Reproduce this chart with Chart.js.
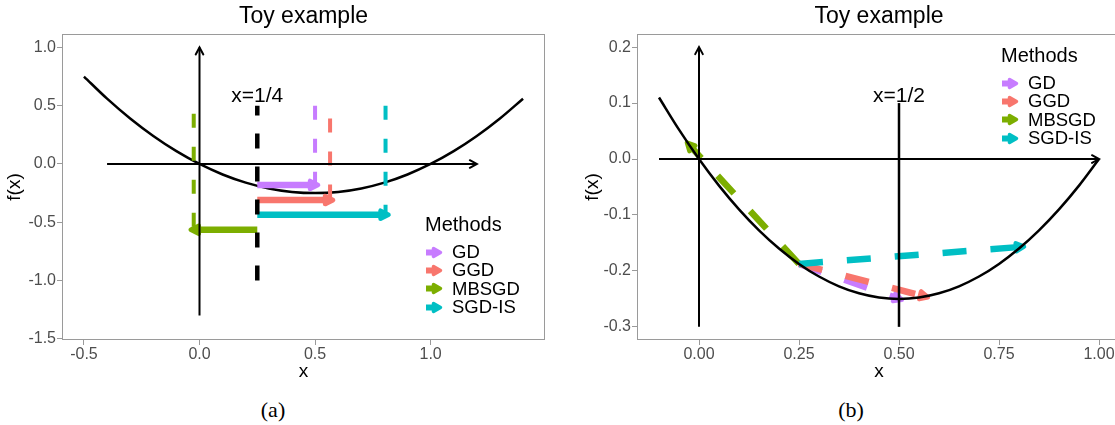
<!DOCTYPE html>
<html>
<head>
<meta charset="utf-8">
<script src="https://cdn.jsdelivr.net/npm/chart.js@4.4.1/dist/chart.umd.min.js"></script>
<style>
  html, body { margin: 0; padding: 0; background: #fff; overflow: hidden; }
  body { width: 1115px; height: 425px; position: relative; font-family: "Liberation Sans", Arial, sans-serif; }
  canvas { position: absolute; top: 0; }
  #chartA { left: 0; }
  #chartB { left: 578px; }
  .legend { position: absolute; color: #000; }
  .legend .ttl { font-size: 20px; line-height: 22px; margin-bottom: 8px; }
  .legend .row { display: flex; align-items: center; height: 18.3px; font-size: 18.5px; padding-left: 1px; }
  .legend svg { margin-right: 9px; }
  .caption { position: absolute; top: 397px; font-family: "Liberation Serif", "Times New Roman", serif; font-size: 22px; line-height: 26px; transform: translateX(-50%); }
</style>
</head>
<body>
<canvas id="chartA" width="557" height="390"></canvas>
<canvas id="chartB" width="545" height="390"></canvas>
<div class="caption" style="left:273px">(a)</div>
<div class="caption" style="left:851px">(b)</div>
<script>
// ---------- data ----------
const methods = ['GD', 'GGD', 'MBSGD', 'SGD-IS'];
const methodColors = ['#C77CFF', '#F8766D', '#7CAE00', '#00BFC4'];

// every method starts from x = 1/4
const x0 = 0.25;
const fx0 = -0.1875;
const xNext = [0.5, 0.565, -0.025, 0.805];
const fNext = [-0.25, -0.2458, 0.0256, -0.157];

// panel (a): height of each horizontal step arrow, top of its dashed marker
const stepLevelA = [-0.18, -0.31, -0.565, -0.435];
const markTopA = [0.5, 0.39, 0.43, 0.5];
const startMarkA = [-1.0, 0.5];

// f(x) = x^2 - x
const curveXA = [-0.5, -0.4, -0.3, -0.2, -0.1, 0, 0.1, 0.2, 0.3, 0.4, 0.5, 0.6, 0.7, 0.8, 0.9, 1.0, 1.1, 1.2, 1.3, 1.4];
const curveYA = [0.75, 0.56, 0.39, 0.24, 0.11, 0, -0.09, -0.16, -0.21, -0.24, -0.25, -0.24, -0.21, -0.16, -0.09, 0, 0.11, 0.24, 0.39, 0.56];
const curveXB = [-0.1, -0.05, 0, 0.05, 0.1, 0.15, 0.2, 0.25, 0.3, 0.35, 0.4, 0.45, 0.5, 0.55, 0.6, 0.65, 0.7, 0.75, 0.8, 0.85, 0.9, 0.95, 1.0];
const curveYB = [0.11, 0.0525, 0, -0.0475, -0.09, -0.1275, -0.16, -0.1875, -0.21, -0.2275, -0.24, -0.2475, -0.25, -0.2475, -0.24, -0.2275, -0.21, -0.1875, -0.16, -0.1275, -0.09, -0.0475, 0];

// coordinate axes drawn inside each panel
const axisXA = [-0.4, 1.2];
const axisYA = [-1.3, 1.0];
const axisXB = [-0.1, 1.0];
const axisYB = [-0.3, 0.2];
const halfLineB = [-0.3, 0.1];

const noteA = { text: 'x=1/4', x: 0.25, y: 0.58 };
const noteB = { text: 'x=1/2', x: 0.5, y: 0.113 };

const ticksXA = [-0.5, 0, 0.5, 1.0];
const labelsXA = ['-0.5', '0.0', '0.5', '1.0'];
const ticksYA = [-1.5, -1.0, -0.5, 0, 0.5, 1.0];
const labelsYA = ['-1.5', '-1.0', '-0.5', '0.0', '0.5', '1.0'];
const ticksXB = [0, 0.25, 0.5, 0.75, 1.0];
const labelsXB = ['0.00', '0.25', '0.50', '0.75', '1.00'];
const ticksYB = [-0.3, -0.2, -0.1, 0, 0.1, 0.2];
const labelsYB = ['-0.3', '-0.2', '-0.1', '0.0', '0.1', '0.2'];

const FONT = '"Liberation Sans", Arial, sans-serif';

// ---------- helpers ----------
function pts(xs, ys) {
    return xs.map((x, i) => ({ x: x, y: ys[i] }));
}

function seg(data, color, width, dash, head, extra) {
    return Object.assign({
        data: data,
        borderColor: color,
        backgroundColor: color,
        borderWidth: width,
        borderDash: dash || [],
        pointRadius: 0,
        pointHoverRadius: 0,
        tension: 0,
        head: head || null
    }, extra || {});
}

function drawHead(ctx, from, to, kind, color) {
    const ang = Math.atan2(to.y - from.y, to.x - from.x);
    ctx.save();
    ctx.translate(to.x, to.y);
    ctx.rotate(ang);
    ctx.setLineDash([]);
    ctx.strokeStyle = color;
    ctx.fillStyle = color;
    ctx.beginPath();
    if (kind === 'open') {
        ctx.lineWidth = 2;
        ctx.lineCap = 'round';
        ctx.moveTo(-7, -3.8);
        ctx.lineTo(0, 0);
        ctx.lineTo(-7, 3.8);
        ctx.stroke();
    } else {
        // thick round-joined triangle, reads as a blunt blob
        ctx.lineWidth = 4.5;
        ctx.lineJoin = 'round';
        ctx.moveTo(3, 0);
        ctx.lineTo(-5, -4);
        ctx.lineTo(-5, 4);
        ctx.closePath();
        ctx.fill();
        ctx.stroke();
    }
    ctx.restore();
}

// arrow heads at the end of a dataset's path
const arrowHeads = {
    id: 'arrowHeads',
    afterDatasetDraw(chart, args) {
        const ds = chart.data.datasets[args.index];
        if (!ds.head) return;
        const p = args.meta.data;
        const a = p[p.length - 2], b = p[p.length - 1];
        const ctx = chart.ctx;
        ctx.save();
        ctx.beginPath();
        ctx.rect(chart.chartArea.left, chart.chartArea.top,
            chart.chartArea.right - chart.chartArea.left, chart.chartArea.bottom - chart.chartArea.top);
        ctx.clip();
        drawHead(ctx, a, b, ds.head, ds.borderColor);
        ctx.restore();
    }
};

// panel border + the "x=..." note
const panelExtras = {
    id: 'panelExtras',
    afterDatasetsDraw(chart, args, opts) {
        const ctx = chart.ctx;
        const n = opts.note;
        if (n) {
            ctx.save();
            ctx.fillStyle = '#000';
            ctx.font = '21px ' + FONT;
            ctx.textAlign = 'center';
            ctx.textBaseline = 'middle';
            ctx.fillText(n.text, chart.scales.x.getPixelForValue(n.x), chart.scales.y.getPixelForValue(n.y));
            ctx.restore();
        }
    },
    afterDraw(chart) {
        const a = chart.chartArea;
        const ctx = chart.ctx;
        ctx.save();
        ctx.strokeStyle = '#9a9a9a';
        ctx.lineWidth = 1;
        ctx.strokeRect(a.left + 0.5, a.top + 0.5, a.right - a.left - 1, a.bottom - a.top - 1);
        ctx.restore();
    }
};

function axisOpts(min, max, ticks, labels, title, isY) {
    return {
        type: 'linear',
        min: min,
        max: max,
        afterBuildTicks: s => { s.ticks = ticks.map(v => ({ value: v })); },
        afterFit: s => { if (isY) s.width = isY; else s.height = 45; },
        ticks: {
            callback: (v, i) => labels[i],
            color: '#4d4d4d',
            font: { family: FONT, size: 16 },
            padding: isY ? 1 : 0,
            maxRotation: 0,
            autoSkip: false
        },
        grid: { drawOnChartArea: false, drawTicks: true, tickLength: 5, color: '#9a9a9a' },
        border: { display: false },
        title: {
            display: true,
            text: title,
            color: '#000',
            font: { family: FONT, size: 19 },
            padding: isY ? { top: 3.6, bottom: 0 } : { top: 0, bottom: 1.6 }
        }
    };
}

function makePanel(id, datasets, xr, yr, note, padRight) {
    datasets.forEach((d, i) => { d.order = -i; });   // later entries draw on top
    return new Chart(document.getElementById(id), {
        type: 'line',
        data: { datasets: datasets },
        options: {
            responsive: false,
            animation: false,
            events: [],
            layout: { padding: { top: 0, right: padRight, bottom: 5, left: 0 } },
            scales: {
                x: axisOpts(xr.min, xr.max, xr.ticks, xr.labels, 'x', 0),
                y: axisOpts(yr.min, yr.max, yr.ticks, yr.labels, 'f(x)', yr.width)
            },
            plugins: {
                legend: { display: false },
                tooltip: { enabled: false },
                title: {
                    display: true,
                    text: 'Toy example',
                    fullSize: false,
                    color: '#000',
                    font: { family: FONT, size: 23, weight: 'normal' },
                    padding: { top: 3, bottom: 3.4 }
                },
                panelExtras: { note: note }
            }
        },
        plugins: [arrowHeads, panelExtras]
    });
}

// ---------- panel (a) ----------
const dsA = [];
dsA.push(seg(pts(curveXA, curveYA), '#000', 2.5, null, null, { cubicInterpolationMode: 'monotone' }));
methods.forEach((m, i) => {
    dsA.push(seg(pts([xNext[i], xNext[i]], [markTopA[i], stepLevelA[i]]), methodColors[i], 4, [14, 19]));
});
methods.forEach((m, i) => {
    dsA.push(seg(pts([x0, xNext[i]], [stepLevelA[i], stepLevelA[i]]), methodColors[i], 6.5, null, 'closed'));
});
dsA.push(seg(pts([x0, x0], startMarkA), '#000', 4.5, [15, 18]));
dsA.push(seg(pts(axisXA, [0, 0]), '#000', 2, null, 'open'));
dsA.push(seg(pts([0, 0], axisYA), '#000', 2, null, 'open'));

makePanel('chartA', dsA,
    { min: -0.595, max: 1.495, ticks: ticksXA, labels: labelsXA },
    { min: -1.51, max: 1.115, ticks: ticksYA, labels: labelsYA, width: 62 },
    noteA, 12);

// ---------- panel (b) ----------
const dsB = [];
methods.forEach((m, i) => {
    dsB.push(seg(pts([x0, xNext[i]], [fx0, fNext[i]]), methodColors[i], 6.5, [24, 24], 'closed'));
});
dsB.push(seg(pts(curveXB, curveYB), '#000', 2.5, null, null, { cubicInterpolationMode: 'monotone' }));
dsB.push(seg(pts(axisXB, [0, 0]), '#000', 2, null, 'open'));
dsB.push(seg(pts([0, 0], axisYB), '#000', 2, null, 'open'));
dsB.push(seg(pts([0.5, 0.5], halfLineB), '#000', 2.5));

makePanel('chartB', dsB,
    { min: -0.155, max: 1.055, ticks: ticksXB, labels: labelsXB },
    { min: -0.3235, max: 0.2235, ticks: ticksYB, labels: labelsYB, width: 59 },
    noteB, 2);

// ---------- legends ----------
function buildLegend(left, top) {
    const box = document.createElement('div');
    box.className = 'legend';
    box.style.left = left + 'px';
    box.style.top = top + 'px';
    let html = '<div class="ttl">Methods</div>';
    methods.forEach((m, i) => {
        const c = methodColors[i];
        html += '<div class="row"><svg width="17" height="13">' +
            '<rect x="0" y="3.5" width="10" height="6" fill="' + c + '"/>' +
            '<polygon points="7.5,2.5 14.5,6.5 7.5,10.5" fill="' + c + '" stroke="' + c + '" stroke-width="3.5" stroke-linejoin="round"/>' +
            '</svg><span>' + m + '</span></div>';
    });
    box.innerHTML = html;
    document.body.appendChild(box);
}

buildLegend(425, 213);
buildLegend(1001, 44);
</script>
</body>
</html>
